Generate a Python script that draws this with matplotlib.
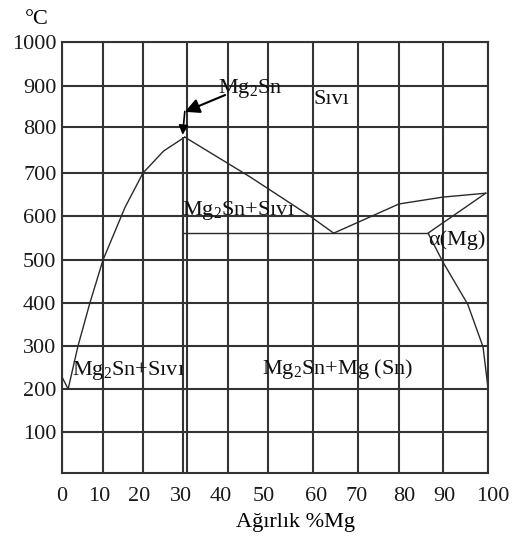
import numpy as np
import matplotlib
matplotlib.use('Agg')
import matplotlib.pyplot as plt
from matplotlib.transforms import ScaledTranslation

plt.rcParams['font.family'] = ['Liberation Serif', 'DejaVu Serif']
plt.rcParams['mathtext.fontset'] = 'custom'
plt.rcParams['mathtext.rm'] = 'Liberation Serif'
plt.rcParams['mathtext.it'] = 'Liberation Serif:italic'

# axis values
x_ticks = [0, 10, 20, 30, 40, 50, 60, 70, 80, 90, 100]
y_ticks = [100, 200, 300, 400, 500, 600, 700, 800, 900, 1000]

# the original grid is hand drawn, spacing is not even -> piecewise scale knots
x_knots = [0, 41, 81, 125, 166, 206, 251, 296, 337, 381, 426]
y_knots = [0, 41, 84, 127, 170, 213, 257, 300, 346, 387, 431]
y_knot_vals = [0] + y_ticks

# phase boundaries (% Mg, °C)
liq_left_x = [0, 1.5, 3.9, 6.8, 10, 15.5, 20, 24.7, 29.5]
liq_left_t = [228, 200, 300, 400, 500, 620, 700, 748, 778]
liq_mid_x = [29.5, 45.5, 59.3, 64.6]
liq_mid_t = [778, 691, 600, 561]
liq_right_x = [64.6, 80, 90, 99.5]
liq_right_t = [561, 628, 644, 653]
solvus_x = [99.5, 86.6, 90, 95.5, 98.9, 100]
solvus_t = [653, 561, 495, 397, 298, 202]
eutectic_x = [29.1, 86.6]
eutectic_t = [561, 561]
mg2sn_x = [29.1, 29.1]
mg2sn_t = [0, 776]


def fx(v):
    return np.interp(v, x_ticks, x_knots)


def fx_inv(v):
    return np.interp(v, x_knots, x_ticks)


def fy(v):
    return np.interp(v, y_knot_vals, y_knots)


def fy_inv(v):
    return np.interp(v, y_knots, y_knot_vals)


fig = plt.figure(figsize=(5.13, 5.37), dpi=100)
ax = fig.add_axes([62 / 513, 1 - 473 / 537, 426 / 513, 431 / 537])
ax.set_xscale('function', functions=(fx, fx_inv))
ax.set_yscale('function', functions=(fy, fy_inv))
ax.set_xlim(0, 100)
ax.set_ylim(0, 1000)

grid_c = '#333333'
ax.set_xticks(x_ticks)
ax.set_xticklabels([str(v) for v in x_ticks])
ax.set_yticks(y_ticks)
ax.set_yticklabels([str(v) for v in y_ticks])
ax.tick_params(length=0, labelsize=16, colors='#1a1a1a')
ax.tick_params(axis='x', pad=10)
ax.tick_params(axis='y', pad=4)
ax.grid(True, color=grid_c, lw=1.5)
for s in ax.spines.values():
    s.set_color(grid_c)
    s.set_linewidth(1.5)

# tick labels in the scan sit a little off the grid lines
label_shift = [0, -4, -4, -6, -7, -4, 3, -1, 5, 1, 5]
for lab, dx in zip(ax.get_xticklabels(), label_shift):
    lab.set_transform(lab.get_transform() + ScaledTranslation(dx / 100, 0, fig.dpi_scale_trans))

line_kw = dict(color='#2a2a2a', lw=1.0)
ax.plot(liq_left_x, liq_left_t, **line_kw)
ax.plot(liq_mid_x, liq_mid_t, **line_kw)
ax.plot(liq_right_x, liq_right_t, **line_kw)
ax.plot(solvus_x, solvus_t, **line_kw)
ax.plot(eutectic_x, eutectic_t, **line_kw)
ax.plot(mg2sn_x, mg2sn_t, color=grid_c, lw=1.5)

# arrow from label to the congruent melting point
ax.annotate('', xy=(29.5, 837), xytext=(39.3, 878),
            arrowprops=dict(arrowstyle='-|>', color='black', lw=1.5,
                            mutation_scale=22, shrinkA=0, shrinkB=0))
ax.annotate('', xy=(29.0, 783), xytext=(29.5, 838),
            arrowprops=dict(arrowstyle='-|>', color='black', lw=1.2,
                            mutation_scale=14, shrinkA=0, shrinkB=0))

txt_kw = dict(fontsize=16, color='#111111', va='center', ha='left')
ax.text(37.6, 893, 'Mg$_\\mathrm{2}$Sn', **txt_kw)
ax.text(60.2, 866, 'Sıvı', **txt_kw)
ax.text(28.9, 612, 'Mg$_\\mathrm{2}$Sn+Sıvı', **txt_kw)
ax.text(86.6, 545, 'α(Mg)', **txt_kw)
ax.text(2.4, 242, 'Mg$_\\mathrm{2}$Sn+Sıvı', **txt_kw)
ax.text(48.5, 246, 'Mg$_\\mathrm{2}$Sn+Mg (Sn)', **txt_kw)

fig.text(37 / 513, 1 - 20 / 537, '°C', fontsize=16, ha='center', va='center')
ax.set_xlabel('Ağırlık %Mg', fontsize=16)
ax.xaxis.set_label_coords((295 - 62) / 426, -(522 - 473) / 431)
ax.xaxis.label.set_va('center')

fig.savefig('out.png', dpi=100)
